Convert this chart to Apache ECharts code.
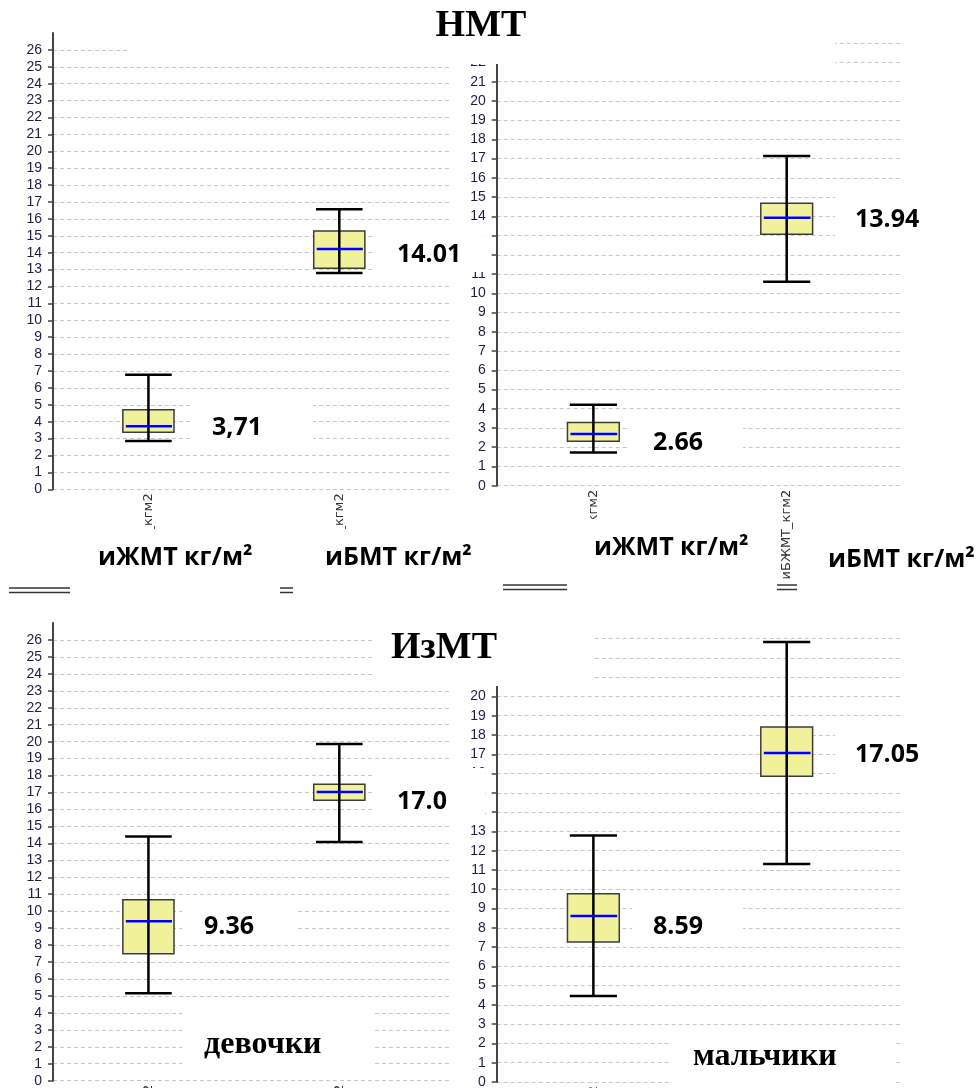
<!DOCTYPE html>
<html><head><meta charset="utf-8">
<script src="https://cdn.jsdelivr.net/npm/echarts@6/dist/echarts.min.js"></script>
<style>html,body{margin:0;padding:0;background:#fff}#c{width:978px;height:1088px}</style>
</head><body><div id="c"></div>
<script>
// ---- data ----
const categories = ['иЖМТ_кгм2', 'иБЖМТ_кгм2'];
// each row: [lower whisker, Q1, median, Q3, upper whisker]
const nmtGirls  = [[2.86, 3.37, 3.73, 4.71, 6.78], [12.80, 13.08, 14.22, 15.28, 16.57]];
const nmtBoys   = [[1.72, 2.31, 2.69, 3.28, 4.21], [10.60, 13.07, 13.93, 14.68, 17.14]];
const izmtGirls = [[5.16, 7.49, 9.40, 10.68, 14.40], [14.08, 16.54, 17.03, 17.49, 19.86]];
const izmtBoys  = [[4.46, 7.26, 8.61, 9.77, 12.78], [11.31, 15.86, 17.06, 18.41, 22.82]];
const nmtGirlsLabels  = ['3,71', '14.01'];
const nmtBoysLabels   = ['2.66', '13.94'];
const izmtGirlsLabels = ['9.36', '17.0'];
const izmtBoysLabels  = ['8.59', '17.05'];
const axisNames = ['иЖМТ кг/м²', 'иБМТ кг/м²'];
const titles = ['НМТ', 'ИзМТ'];
const groupNames = ['девочки', 'мальчики'];
const yMaxLeft = 27, yMaxRight = 23;

// ---- chart ----
const chart = echarts.init(document.getElementById('c'), null, {renderer: 'canvas'});

const grids = [
  {left: 53, top: 33, width: 397, height: 456.3},
  {left: 496.7, top: 43.2, width: 403.3, height: 442.5},
  {left: 53, top: 623, width: 397, height: 457.7},
  {left: 496.7, top: 638.6, width: 403.3, height: 443.4}
].map(g => Object.assign({containLabel: false, outerBoundsMode: 'none'}, g));
const xMax = [2.08, 2.086, 2.08, 2.086];
const yMax = [yMaxLeft, yMaxRight, yMaxLeft, yMaxRight];
const datasets = [nmtGirls, nmtBoys, izmtGirls, izmtBoys];

function xAxisFor(i) {
  return {
    type: 'value', gridIndex: i, min: 0, max: xMax[i], interval: 0.5,
    axisLine: {show: false}, axisTick: {show: false}, splitLine: {show: false},
    axisLabel: {
      rotate: 90, margin: 4, fontSize: 13, fontFamily: 'DejaVu Sans', color: '#333',
      showMaxLabel: false, hideOverlap: false,
      formatter: v => (Math.abs(v - 0.5) < 1e-6 ? categories[0] : Math.abs(v - 1.5) < 1e-6 ? categories[1] : '')
    }
  };
}
function yAxisFor(i) {
  return {
    type: 'value', gridIndex: i, min: 0, max: yMax[i], interval: 1,
    axisLine: {show: true, lineStyle: {color: '#444', width: 2}},
    axisTick: {show: true, length: 5, lineStyle: {color: '#444', width: 1.5}},
    axisLabel: {margin: 11, fontSize: 14, fontFamily: 'Liberation Sans', color: '#1e1e44', showMaxLabel: i % 2 === 1,
      hideOverlap: false,
      formatter: v => (v >= yMax[i] - 0.001 && i % 2 === 0 ? '' : String(v))},
    splitLine: {show: true, showMaxLine: i % 2 === 1, lineStyle: {color: '#c6c6c6', type: [4, 3], width: 1}}
  };
}

function renderBox(params, api) {
  const x = api.value(0);
  const pLo = api.coord([x, api.value(1)]);
  const pQ1 = api.coord([x, api.value(2)]);
  const pMed = api.coord([x, api.value(3)]);
  const pQ3 = api.coord([x, api.value(4)]);
  const pHi = api.coord([x, api.value(5)]);
  const boxHalf = api.size([0.134, 0])[0];
  const capHalf = api.size([0.122, 0])[0];
  const cx = pMed[0];
  return {
    type: 'group',
    children: [
      {type: 'rect', shape: {x: cx - boxHalf, y: pQ3[1], width: boxHalf * 2, height: pQ1[1] - pQ3[1]},
        style: {fill: '#f1f19b', stroke: '#3c3c3c', lineWidth: 1.5}},
      {type: 'line', shape: {x1: cx, y1: pHi[1], x2: cx, y2: pLo[1]}, style: {stroke: '#000', lineWidth: 2.5}},
      {type: 'line', shape: {x1: cx - capHalf, y1: pHi[1], x2: cx + capHalf, y2: pHi[1]}, style: {stroke: '#000', lineWidth: 2.5}},
      {type: 'line', shape: {x1: cx - capHalf, y1: pLo[1], x2: cx + capHalf, y2: pLo[1]}, style: {stroke: '#000', lineWidth: 2.5}},
      {type: 'line', shape: {x1: cx - boxHalf + 3, y1: pMed[1], x2: cx + boxHalf - 2, y2: pMed[1]}, style: {stroke: '#0000ff', lineWidth: 2.5}}
    ]
  };
}

const series = datasets.map((d, i) => ({
  type: 'custom', xAxisIndex: i, yAxisIndex: i, clip: false,
  renderItem: renderBox,
  encode: {x: 0, y: [1, 2, 3, 4, 5]},
  data: categories.map((c, k) => [k + 0.5].concat(d[k]))
}));

// white patches of the collage + overlay texts
function cover(x, y, w, h) {
  return {type: 'rect', z: 100, silent: true, shape: {x, y, width: w, height: h}, style: {fill: '#fff'}};
}
function txt(text, x, y, font, align) {
  return {type: 'text', z: 101, silent: true, x, y,
    style: {text, font, fill: '#000', align: align || 'left', verticalAlign: 'middle'}};
}
const numFont = 'bold 25px "Open Sans"';
const nameFont = 'bold 25px "Open Sans"';
const serifFont = 'bold 38px "Liberation Serif"';
const groupFont = 'bold 32px "Liberation Serif"';
function dbl(x1, x2, y) {
  return [
    {type: 'line', z: 101, shape: {x1, y1: y, x2, y2: y}, style: {stroke: '#333', lineWidth: 1.5}},
    {type: 'line', z: 101, shape: {x1, y1: y + 4.5, x2, y2: y + 4.5}, style: {stroke: '#333', lineWidth: 1.5}}
  ];
}

const elements = [
  cover(127, 0, 708, 64),
  cover(190, 398, 123, 47),
  cover(375, 227, 110, 45),
  cover(835, 188, 90, 57),
  cover(630, 415, 113, 45),
  cover(60, 529, 420, 54),
  cover(500, 519, 262, 60),
  cover(372, 598, 221, 88),
  cover(375, 768, 110, 52),
  cover(182, 903, 115, 34),
  cover(182, 1005, 193, 70),
  cover(835, 725, 90, 58),
  cover(632, 900, 111, 37),
  cover(672, 1030, 223, 58),
  txt(titles[0], 481, 26, serifFont, 'center'),
  txt(titles[1], 444, 648, serifFont, 'center'),
  txt(nmtGirlsLabels[0], 212, 428, numFont),
  txt(nmtGirlsLabels[1], 397, 255, numFont),
  txt(nmtBoysLabels[0], 653, 443, numFont),
  txt(nmtBoysLabels[1], 855, 220, numFont),
  txt(izmtGirlsLabels[0], 204, 927, numFont),
  txt(izmtGirlsLabels[1], 397, 802, numFont),
  txt(izmtBoysLabels[0], 653, 927, numFont),
  txt(izmtBoysLabels[1], 855, 755, numFont),
  txt(axisNames[0], 98, 558, nameFont),
  txt(axisNames[1], 325, 558, nameFont),
  txt(axisNames[0], 594, 548, nameFont),
  txt(axisNames[1], 828, 560, nameFont),
  txt(groupNames[0], 204, 1045, groupFont),
  txt(groupNames[1], 693, 1057, groupFont)
].concat(dbl(9, 70, 588), dbl(280, 293, 588), dbl(503, 567, 585), dbl(777, 797, 585));

chart.setOption({
  animation: false,
  backgroundColor: '#fff',
  grid: grids,
  xAxis: [0, 1, 2, 3].map(xAxisFor),
  yAxis: [0, 1, 2, 3].map(yAxisFor),
  series,
  graphic: {elements}
});
</script>
</body></html>
